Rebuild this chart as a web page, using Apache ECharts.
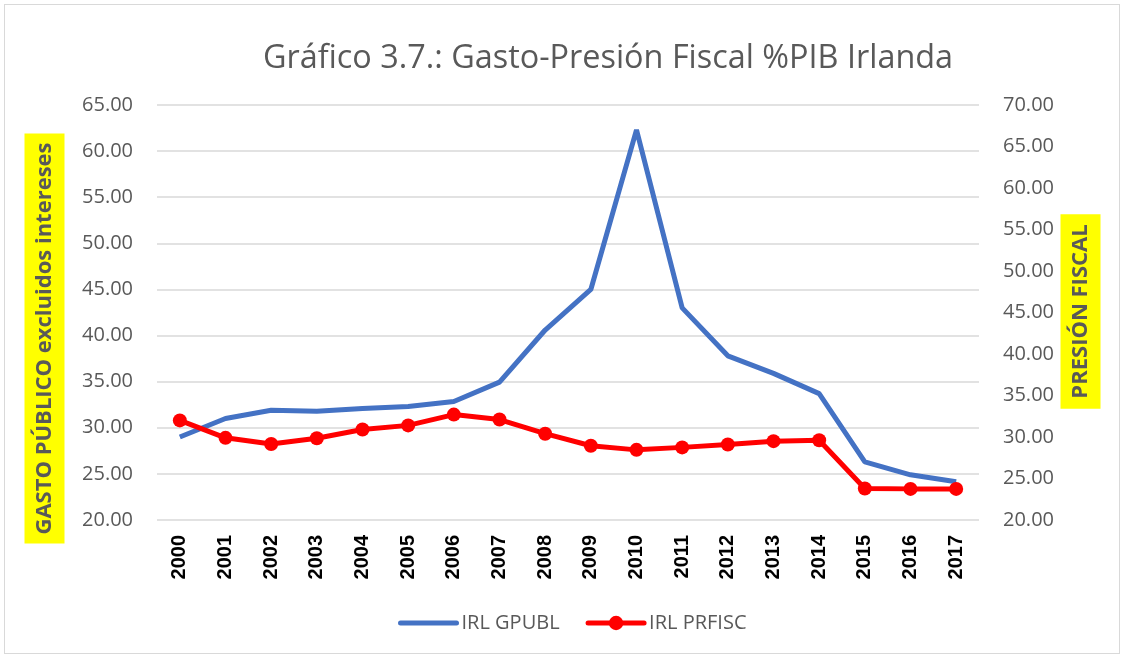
<!DOCTYPE html>
<html>
<head>
<meta charset="utf-8">
<script src="https://cdn.jsdelivr.net/npm/echarts@6/dist/echarts.min.js"></script>
<style>
html,body{margin:0;padding:0;background:#fff;}
#frame{position:absolute;left:4px;top:4px;width:1116px;height:650px;border:1px solid #d9d9d9;box-sizing:border-box;}
#chart{position:absolute;left:0;top:0;width:1126px;height:660px;}
</style>
</head>
<body>
<div id="frame"></div>
<div id="chart"></div>
<script>
const years = ['2000','2001','2002','2003','2004','2005','2006','2007','2008','2009','2010','2011','2012','2013','2014','2015','2016','2017'];
const gpubl = [29.0, 31.0, 31.9, 31.8, 32.1, 32.3, 32.85, 34.95, 40.6, 45.0, 62.3, 43.0, 37.8, 35.9, 33.7, 26.3, 24.9, 24.15];
const prfisc = [32.0, 29.9, 29.15, 29.85, 30.9, 31.4, 32.7, 32.1, 30.4, 28.95, 28.45, 28.75, 29.1, 29.5, 29.6, 23.8, 23.75, 23.75];
const leftTicks = {min: 20, max: 65, interval: 5};
const rightTicks = {min: 20, max: 70, interval: 5};
const title = 'Gráfico 3.7.: Gasto-Presión Fiscal %PIB Irlanda';
const leftName = 'GASTO PÚBLICO excluidos intereses';
const rightName = 'PRESIÓN FISCAL';

const chart = echarts.init(document.getElementById('chart'));
const gray = '#595959';
const font = 'Open Sans';
chart.setOption({
  animation: false,
  title: {
    text: title, left: 603, top: 38, textAlign: 'center',
    textStyle: {fontFamily: font, fontWeight: 'normal', fontSize: 32.4, color: gray}
  },
  grid: {left: 157, right: 147, top: 105, bottom: 140},
  legend: {
    left: 398, top: 613, padding: 0, itemGap: 26, itemWidth: 56, itemHeight: 18,
    lineStyle: {width: 5, cap: 'round'},
    textStyle: {fontFamily: font, fontSize: 20, color: gray},
    data: [
      {name: 'IRL GPUBL', itemStyle: {opacity: 0}},
      {name: 'IRL PRFISC'}
    ]
  },
  xAxis: {
    type: 'category', data: years, boundaryGap: true,
    axisLine: {show: false}, axisTick: {show: false},
    axisLabel: {rotate: 90, margin: 15, fontFamily: 'Liberation Sans', fontWeight: 'bold', fontSize: 20, color: '#000'}
  },
  yAxis: [
    {
      type: 'value', min: leftTicks.min, max: leftTicks.max, interval: leftTicks.interval,
      axisLabel: {margin: 24, fontFamily: font, fontSize: 20, color: gray, formatter: v => v.toFixed(2)},
      splitLine: {lineStyle: {color: '#d9d9d9', width: 1.5}},
      axisLine: {show: false}, axisTick: {show: false}
    },
    {
      type: 'value', min: rightTicks.min, max: rightTicks.max, interval: rightTicks.interval,
      axisLabel: {margin: 24, fontFamily: font, fontSize: 20, color: gray, formatter: v => v.toFixed(2)},
      splitLine: {show: false},
      axisLine: {show: false}, axisTick: {show: false}
    }
  ],
  series: [
    {
      name: 'IRL GPUBL', type: 'line', data: gpubl, yAxisIndex: 0,
      symbol: 'none', lineStyle: {color: '#4472C4', width: 5}, itemStyle: {color: '#4472C4'}
    },
    {
      name: 'IRL PRFISC', type: 'line', data: prfisc, yAxisIndex: 1,
      symbol: 'circle', symbolSize: 14, showSymbol: true,
      lineStyle: {color: '#FF0000', width: 5}, itemStyle: {color: '#FF0000'}
    }
  ],
  graphic: [
    {
      type: 'text', x: 44.5, y: 338.5, rotation: Math.PI / 2,
      style: {
        text: leftName, fontFamily: font, fontWeight: 'bold', fontSize: 22, fill: gray,
        align: 'center', verticalAlign: 'middle', backgroundColor: '#ffff00', padding: [9, 9, 9, 9]
      }
    },
    {
      type: 'text', x: 1080.5, y: 311.5, rotation: Math.PI / 2,
      style: {
        text: rightName, fontFamily: font, fontWeight: 'bold', fontSize: 22, fill: gray,
        align: 'center', verticalAlign: 'middle', backgroundColor: '#ffff00', padding: [9, 10, 9, 10]
      }
    }
  ]
});
</script>
</body>
</html>
